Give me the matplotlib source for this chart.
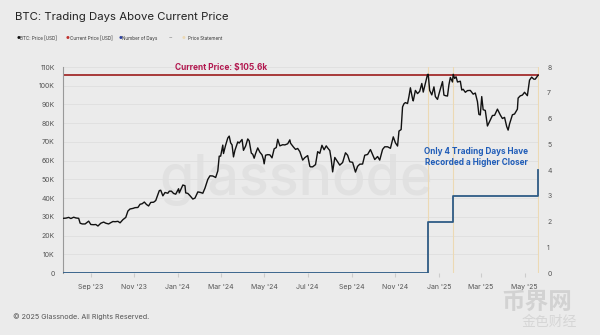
import matplotlib
matplotlib.use("Agg")
import matplotlib.pyplot as plt
import matplotlib.dates as mdates
import numpy as np
import pandas as pd

plt.rcParams['font.family'] = ['Inter', 'DejaVu Sans']

# ---------------- data ----------------
price_dates = [
    "2023-07-24","2023-07-28","2023-08-01","2023-08-04","2023-08-08","2023-08-11","2023-08-15","2023-08-17",
    "2023-08-20","2023-08-24","2023-08-29","2023-09-01","2023-09-05","2023-09-08","2023-09-11","2023-09-15",
    "2023-09-19","2023-09-22","2023-09-26","2023-09-29","2023-10-02","2023-10-05","2023-10-09","2023-10-12",
    "2023-10-16","2023-10-20","2023-10-23","2023-10-26","2023-10-30","2023-11-02","2023-11-06","2023-11-09",
    "2023-11-12","2023-11-15","2023-11-18","2023-11-21","2023-11-24","2023-11-28","2023-12-01","2023-12-04",
    "2023-12-06","2023-12-08","2023-12-11","2023-12-14","2023-12-18","2023-12-20","2023-12-23","2023-12-26",
    "2023-12-29","2024-01-02","2024-01-03","2024-01-08","2024-01-11","2024-01-12","2024-01-15","2024-01-18",
    "2024-01-22","2024-01-25","2024-01-29","2024-02-01","2024-02-05","2024-02-08","2024-02-12","2024-02-15",
    "2024-02-19","2024-02-23","2024-02-26","2024-02-28","2024-03-01","2024-03-04","2024-03-05","2024-03-08",
    "2024-03-11","2024-03-13","2024-03-15","2024-03-17","2024-03-19","2024-03-21","2024-03-25","2024-03-27",
    "2024-03-31","2024-04-02","2024-04-05","2024-04-08","2024-04-10","2024-04-13","2024-04-15","2024-04-17",
    "2024-04-19","2024-04-22","2024-04-25","2024-04-28","2024-04-30","2024-05-01","2024-05-03","2024-05-06",
    "2024-05-09","2024-05-12","2024-05-15","2024-05-18","2024-05-20","2024-05-23","2024-05-27","2024-05-30",
    "2024-06-03","2024-06-06","2024-06-07","2024-06-11","2024-06-14","2024-06-17","2024-06-20","2024-06-24",
    "2024-06-27","2024-07-01","2024-07-04","2024-07-05","2024-07-08","2024-07-12","2024-07-15","2024-07-18",
    "2024-07-21","2024-07-24","2024-07-27","2024-07-29","2024-08-01","2024-08-03","2024-08-05","2024-08-08",
    "2024-08-12","2024-08-15","2024-08-19","2024-08-23","2024-08-26","2024-08-29","2024-09-02","2024-09-06",
    "2024-09-09","2024-09-12","2024-09-16","2024-09-19","2024-09-23","2024-09-27","2024-09-30","2024-10-03",
    "2024-10-07","2024-10-10","2024-10-14","2024-10-17","2024-10-21","2024-10-25","2024-10-29","2024-11-01",
    "2024-11-04","2024-11-06","2024-11-09","2024-11-11","2024-11-13","2024-11-15","2024-11-18","2024-11-20",
    "2024-11-22","2024-11-25","2024-11-26","2024-11-29","2024-12-02","2024-12-05","2024-12-08","2024-12-10",
    "2024-12-13","2024-12-16","2024-12-17","2024-12-19","2024-12-22","2024-12-25","2024-12-27","2024-12-30",
    "2025-01-02","2025-01-06","2025-01-08","2025-01-10","2025-01-13","2025-01-15","2025-01-17","2025-01-20",
    "2025-01-21","2025-01-23","2025-01-25","2025-01-27","2025-01-31","2025-02-02","2025-02-04","2025-02-07",
    "2025-02-10","2025-02-14","2025-02-18","2025-02-21","2025-02-24","2025-02-26","2025-02-28","2025-03-02",
    "2025-03-04","2025-03-07","2025-03-10","2025-03-13","2025-03-17","2025-03-20","2025-03-24","2025-03-28",
    "2025-03-31","2025-04-03","2025-04-06","2025-04-08","2025-04-10","2025-04-14","2025-04-17","2025-04-21",
    "2025-04-22","2025-04-25","2025-04-28","2025-05-01","2025-05-05","2025-05-08","2025-05-11","2025-05-14",
    "2025-05-16","2025-05-20",
]
price_k = [
    29.2,29.3,29.7,29.1,29.8,29.4,29.2,26.6,
    26.2,26.2,27.7,25.9,25.8,25.9,25.1,26.6,
    27.2,26.6,26.2,26.9,27.5,27.4,27.6,26.8,
    28.5,29.7,33.1,34.2,34.5,34.9,35.0,36.7,
    37.0,37.9,36.6,35.8,37.7,37.8,38.7,41.9,
    44.0,44.2,41.2,43.0,42.6,43.7,43.7,42.5,
    42.1,45.0,42.8,47.0,46.6,42.8,42.5,41.3,
    39.5,40.0,43.3,43.1,42.6,45.3,50.0,51.9,
    51.8,51.0,54.5,62.4,62.4,68.3,63.8,68.3,
    72.1,73.1,69.5,68.4,62.0,65.5,70.0,69.4,
    71.3,65.5,67.8,71.6,70.6,64.0,63.4,61.3,
    63.8,66.8,64.5,63.1,60.6,58.3,62.9,63.2,
    63.1,61.5,66.3,67.0,71.4,67.9,68.5,68.4,
    69.0,71.1,69.3,67.3,66.0,66.5,64.8,60.3,
    61.6,62.7,57.0,56.7,56.7,57.9,64.8,63.9,
    68.2,65.8,67.9,66.8,65.4,60.7,54.0,61.7,
    59.4,57.6,59.0,64.2,62.9,59.4,59.1,53.9,
    57.0,58.1,58.2,62.9,63.3,65.9,63.3,60.6,
    62.2,60.3,66.0,67.4,67.4,66.6,72.7,69.5,
    67.8,75.8,76.6,88.7,90.4,91.0,90.5,94.3,
    98.9,93.0,91.9,97.5,95.8,97.0,101.2,96.6,
    101.4,106.0,106.1,97.5,95.1,99.4,94.2,92.7,
    96.9,102.2,95.0,94.7,94.5,100.5,104.4,102.0,
    106.1,103.9,104.8,102.0,102.4,97.7,98.1,96.5,
    97.4,97.5,95.5,96.1,91.5,84.7,84.4,94.2,
    87.2,86.8,78.5,80.9,84.1,84.2,87.5,84.4,
    82.5,83.1,78.2,76.3,79.6,84.5,84.9,87.5,
    93.4,94.6,95.0,96.5,94.7,103.0,104.6,103.5,
    103.5,105.6,
]
current_price_k = 105.6

count_dates = ["2023-07-24", "2024-12-16", "2025-01-21", "2025-05-20"]
count_days = [0, 2, 3, 4]

statement_dates = ["2024-12-17", "2025-01-21", "2025-05-20"]

# ---------------- style ----------------
BG = "#ebebeb"
fig = plt.figure(figsize=(6.0, 3.35), dpi=100, facecolor=BG)
ax = fig.add_axes([0.105, 0.185, 0.793, 0.615], facecolor=BG)
ax2 = ax.twinx()

pd_dates = pd.to_datetime(price_dates)
prices = np.array(price_k) * 1000

# watermark
ax.text(0.49, 0.45, "glassnode", transform=ax.transAxes, ha="center", va="center",
        fontsize=40, color="#e1e1e1", fontweight="medium", zorder=0)

for d in statement_dates:
    ax.axvline(pd.Timestamp(d), color="#ecd9b4", lw=0.8, zorder=1)

ax.axhline(current_price_k * 1000, color="#a83a3a", lw=1.4, zorder=2)
ax.plot(pd_dates, prices, color="#111111", lw=1.0, zorder=4)

cd = pd.to_datetime(count_dates)
ax2.plot(cd, count_days, drawstyle="steps-post", color="#2e5b86", lw=1.3, zorder=3)

ax.set_xlim(pd_dates[0], pd_dates[-1] + pd.Timedelta(days=1))
ax.set_ylim(0, 110000)
ax2.set_ylim(0, 8)

ax.set_yticks(np.arange(0, 110001, 10000))
ax.set_yticklabels(["0"] + [f"{i}K" for i in range(10, 111, 10)])
ax2.set_yticks(range(0, 9))

ax.xaxis.set_major_locator(mdates.MonthLocator(bymonth=[1, 3, 5, 7, 9, 11]))
ax.xaxis.set_major_formatter(mdates.DateFormatter("%b '%y"))

ax.grid(axis="y", color="#dfdfdf", lw=0.6)
ax.set_axisbelow(True)
for a in (ax, ax2):
    for s in ["top", "right", "bottom"]:
        a.spines[s].set_visible(False)
    a.tick_params(labelsize=5, colors="#555555", length=0, pad=6)
ax2.spines["left"].set_visible(False)
ax.spines["left"].set_color("#999999")
ax.spines["left"].set_linewidth(0.8)
ax.tick_params(axis="x", length=3, color="#cccccc", pad=5)

# annotations
ax.text(pd.Timestamp("2024-03-01"), 109800, "Current Price: $105.6k", ha="center", va="center",
        fontsize=6.0, fontweight="bold", color="#b2184f", clip_on=False)
ax.text(pd.Timestamp("2025-02-22"), 62000, "Only 4 Trading Days Have\nRecorded a Higher Closer",
        ha="center", va="center", fontsize=5.9, fontweight="bold", color="#1f5cb8", linespacing=1.3)

# title & legend
fig.text(0.025, 0.948, "BTC: Trading Days Above Current Price", fontsize=8.2, color="#222222",
         va="center", ha="left")
leg_items = [(0.027, "#111111", "BTC: Price [USD]"),
             (0.109, "#c0302c", "Current Price [USD]"),
             (0.197, "#2b3f9e", "Number of Days")]
ly = 0.886
for x, c, t in leg_items:
    fig.text(x, ly, "●", color=c, fontsize=3.0, va="center", ha="left")
    fig.text(x + 0.007, ly, t, color="#333333", fontsize=3.3, va="center", ha="left")
fig.text(0.281, ly, "--", color="#666666", fontsize=3.5, va="center", ha="left")
fig.text(0.303, ly, "●", color="#ecd9b4", fontsize=3.0, va="center", ha="left")
fig.text(0.313, ly, "Price Statement", color="#333333", fontsize=3.3, va="center", ha="left")

fig.text(0.022, 0.054, "© 2025 Glassnode. All Rights Reserved.", fontsize=5.2, color="#555555",
         va="center", ha="left")

# reposting watermark
fig.text(0.895, 0.098, "币界网", fontsize=17, color="#d2d2d2", va="center", ha="center",
         family=["Noto Sans CJK SC", "DejaVu Sans"], fontweight="bold")
fig.text(0.915, 0.038, "金色财经", fontsize=10, color="#d6d6d6", va="center", ha="center",
         family=["Noto Sans CJK SC", "DejaVu Sans"])

fig.savefig("out.png", dpi=100, facecolor=BG)
